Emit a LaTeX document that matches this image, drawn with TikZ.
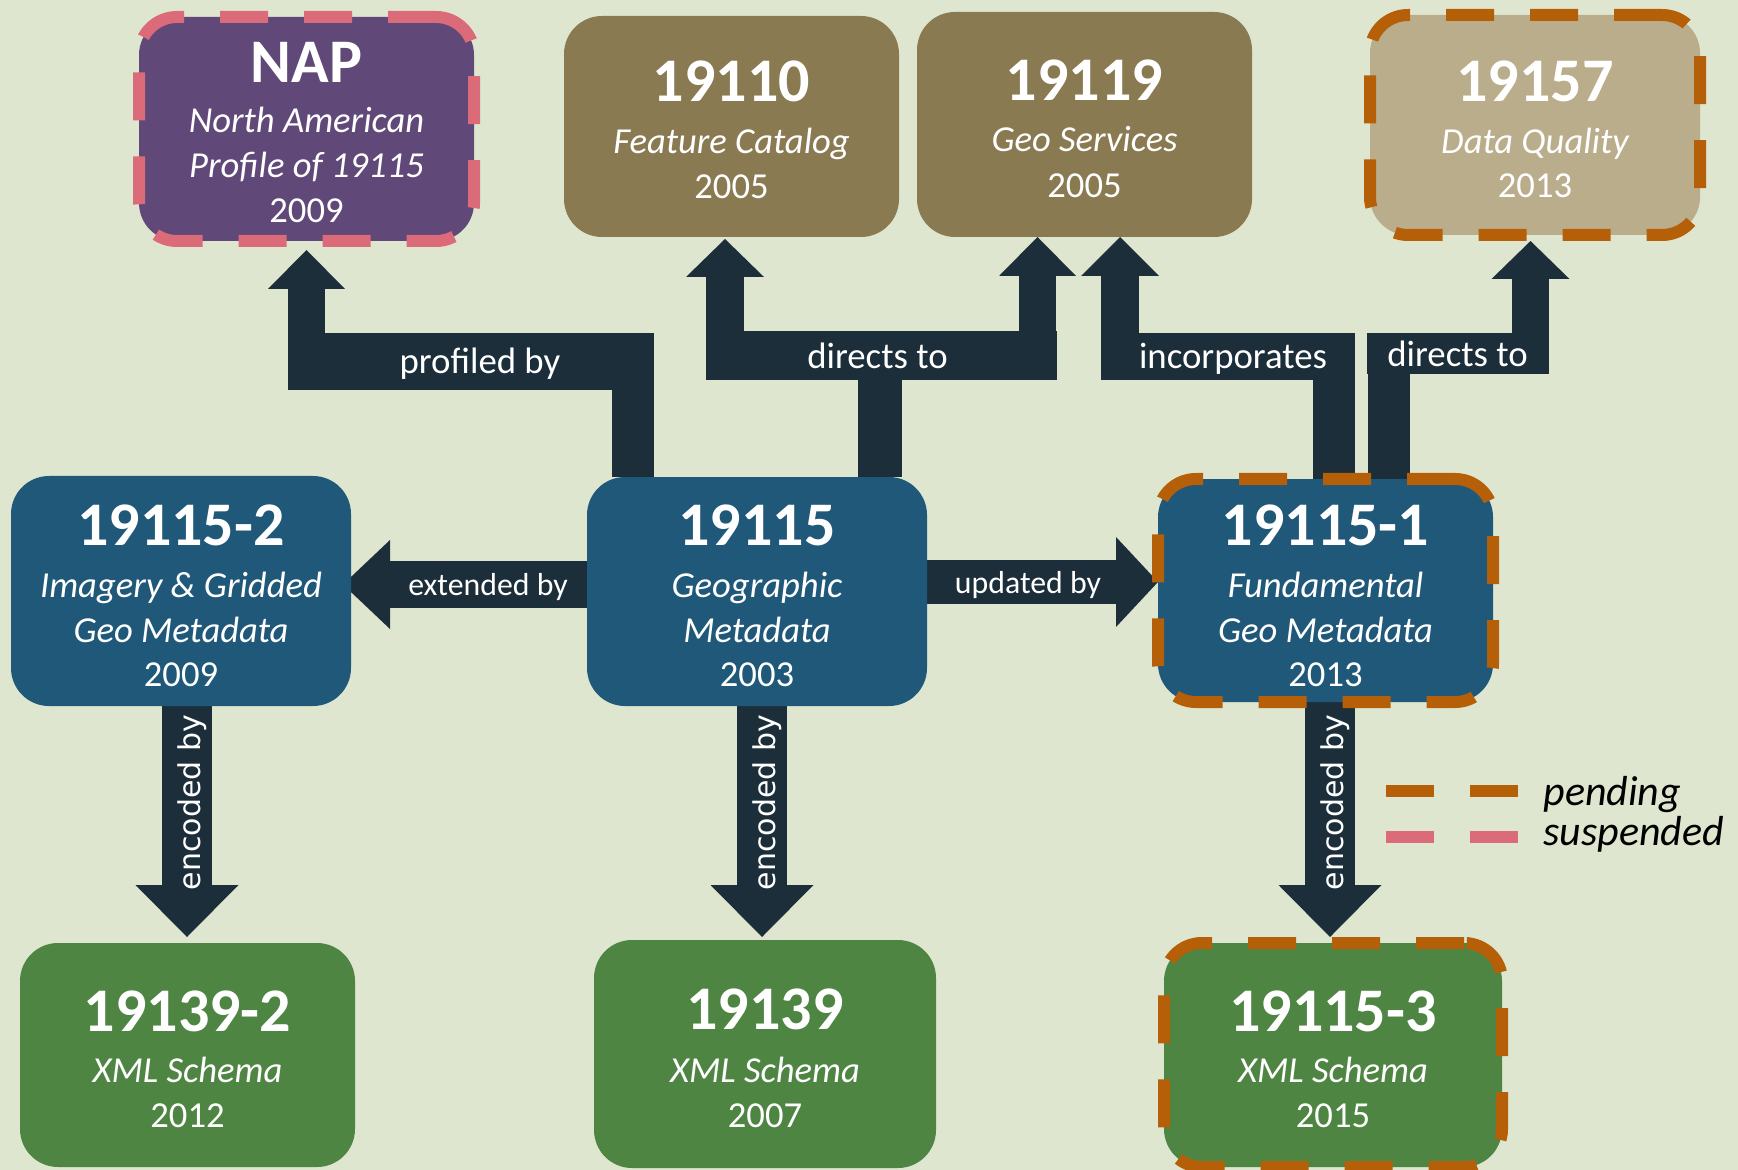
\documentclass[tikz,border=0pt]{standalone}
\usepackage{fontspec}
\setmainfont{Carlito}
\newfontfamily\encfont{DejaVu Sans}
\usetikzlibrary{arrows.meta}
\definecolor{bgc}{HTML}{DFE6CF}
\definecolor{navyc}{HTML}{1F5879}
\definecolor{arrowc}{HTML}{1C2E3A}
\definecolor{brownc}{HTML}{8A7A52}
\definecolor{tanc}{HTML}{BAAD8B}
\definecolor{purplec}{HTML}{604878}
\definecolor{greenc}{HTML}{4F8543}
\definecolor{orangec}{HTML}{B55F08}
\definecolor{pinkc}{HTML}{DB6B78}
\pgfdeclarelayer{back}
\pgfdeclarelayer{links}
\pgfsetlayers{back,links,main}
\begin{document}
\begin{tikzpicture}[x=0.5pt,y=-0.5pt,
  box/.style={rectangle, rounded corners=19pt, inner sep=0pt, outer sep=0pt},
  pend/.style={draw=orangec, line width=6pt, dash pattern=on 24pt off 18pt},
  susp/.style={draw=pinkc, line width=6pt, dash pattern=on 24pt off 18pt},
  band/.style={rectangle, fill=arrowc, inner sep=0pt, outer sep=0pt},
  link/.style={draw=arrowc, line width=#1},
  headed/.style 2 args={-{Triangle[length=#1,width=#2,line width=0pt]}},
  ttl/.style={font=\bfseries\fontsize{31}{31}\selectfont, text=white, anchor=base, inner sep=0pt},
  sub/.style={font=\itshape\fontsize{18.3}{18.3}\selectfont, text=white, anchor=base, inner sep=0pt},
  yr/.style={font=\fontsize{18.3}{18.3}\selectfont, text=white, anchor=base, inner sep=0pt},
  lab/.style={font=\fontsize{18.4}{18.4}\selectfont, text=white, anchor=base, inner sep=0pt},
  slab/.style={font=\fontsize{15.9}{15.9}\selectfont, text=white, anchor=base, inner sep=0pt},
  enc/.style={font=\encfont\fontsize{15}{15}\selectfont, text=white, anchor=base, rotate=90, inner sep=0pt},
  leg/.style={font=\itshape\fontsize{21}{21}\selectfont, text=black, anchor=base west, inner sep=0pt}
]
\useasboundingbox (0,0) rectangle (1738,1170);
\begin{pgfonlayer}{back}
\fill[bgc] (0,0) rectangle (1738,1170);
\end{pgfonlayer}

% ---------- boxes ----------
\node[box, fill=purplec, susp, minimum width=167.5pt, minimum height=112pt] (NAP) at (306.5,129) {};
\node[box, fill=brownc, minimum width=167.5pt, minimum height=110.5pt] (F19110) at (731.5,126.5) {};
\node[box, fill=brownc, minimum width=167.5pt, minimum height=112.5pt] (F19119) at (1084.5,124.5) {};
\node[box, fill=tanc, pend, minimum width=165pt, minimum height=110pt] (F19157) at (1535,125) {};
\node[box, fill=navyc, minimum width=170pt, minimum height=115pt] (B191152) at (181,591) {};
\node[box, fill=navyc, minimum width=170pt, minimum height=114.5pt] (B19115) at (757,591.5) {};
\node[box, fill=navyc, pend, minimum width=167.5pt, minimum height=111.5pt] (B191151) at (1325.5,590.5) {};
\node[box, fill=greenc, minimum width=167.5pt, minimum height=112pt] (G191392) at (187.5,1055) {};
\node[box, fill=greenc, minimum width=171pt, minimum height=114pt] (G19139) at (765,1054) {};
\node[box, fill=greenc, pend, minimum width=169pt, minimum height=112pt] (G191153) at (1333,1055) {};

% ---------- connectors ----------
\begin{pgfonlayer}{links}
% extended by
\coordinate (ext-a) at ([yshift=3.5pt]B19115.west);
\draw[link=23.5pt, headed={23.5pt}{44.5pt}, shorten >=-4pt] (ext-a) -- (B191152.east |- ext-a);
% updated by
\coordinate (upd-a) at ([yshift=4.75pt]B19115.east);
\draw[link=22pt, headed={21pt}{45pt}] (upd-a) -- (B191151.west |- upd-a);
% encoded by
\coordinate (enc1-a) at ([xshift=3pt]B191152.south);
\draw[link=25pt, headed={26pt}{51.5pt}, shorten >=3pt] (enc1-a) -- (enc1-a |- G191392.north);
\coordinate (enc2-a) at ([xshift=2.5pt]B19115.south);
\draw[link=25pt, headed={26pt}{51.5pt}, shorten >=1.5pt] (enc2-a) -- (enc2-a |- G19139.north);
\coordinate (enc3-a) at ([xshift=2.25pt]B191151.south);
\draw[link=25pt, headed={26pt}{51.5pt}, shorten >=3pt] (enc3-a) -- (enc3-a |- G191153.north);
% profiled by
\node[band, minimum width=183pt, minimum height=28.5pt] (pb-band) at (471,361.5) {};
\coordinate (pb-a) at ([xshift=-62pt]B19115.north);
\draw[link=21pt] (pb-a) -- (pb-a |- pb-band.center);
\draw[link=18.5pt, headed={19.5pt}{38.5pt}, shorten >=4.5pt] (NAP.south |- pb-band.center) -- (NAP.south);
% directs to (19110, 19119)
\node[band, minimum width=175.5pt, minimum height=24.5pt] (dt1-band) at (881.5,355.5) {};
\coordinate (dt1-a) at ([xshift=61.5pt]B19115.north);
\draw[link=22pt] (dt1-a) -- (dt1-a |- dt1-band.center);
\coordinate (dt1-b) at ([xshift=-3.25pt]F19110.south);
\draw[link=19pt, headed={19pt}{39pt}, shorten >=1pt] (dt1-b |- dt1-band.center) -- (dt1-b);
\coordinate (dt1-c) at ([xshift=-23.5pt]F19119.south);
\draw[link=18.5pt, headed={19.5pt}{38.5pt}] (dt1-c |- dt1-band.center) -- (dt1-c);
% incorporates
\node[band, minimum width=127pt, minimum height=23.5pt] (inc-band) at (1228,356.5) {};
\coordinate (inc-a) at ([xshift=4.25pt]B191151.north);
\draw[link=21pt] (inc-a |- inc-band.center) -- (inc-a);
\coordinate (inc-b) at ([xshift=17.75pt]F19119.south);
\draw[link=19pt, headed={19.5pt}{39pt}] (inc-b |- inc-band.center) -- (inc-b);
% directs to (19157)
\node[band, minimum width=91pt, minimum height=20.5pt] (dt2-band) at (1458,353.5) {};
\coordinate (dt2-a) at ([xshift=31.75pt]B191151.north);
\draw[link=21pt] (dt2-a) -- (dt2-a |- dt2-band.center);
\coordinate (dt2-b) at ([xshift=-2.25pt]F19157.south);
\draw[link=18.75pt, headed={19pt}{39pt}, shorten >=3pt] (dt2-b |- dt2-band.center) -- (dt2-b);
\end{pgfonlayer}

% ---------- connector labels ----------
\node[lab] (pb-l) at (480,374) {profiled by};
\node[lab] (dt1-l) at (877.5,369) {directs to};
\node[lab] (inc-l) at (1233,369) {incorporates};
\node[lab] (dt2-l) at (1457.5,367) {directs to};
\node[slab] (ext-l) at (488,595) {extended by};
\node[slab] (upd-l) at (1028,593) {updated by};
\node[enc] (enc1-l) at (200,802.5) {encoded by};
\node[enc] (enc2-l) at (775,802.5) {encoded by};
\node[enc] (enc3-l) at (1343,802.5) {encoded by};

% ---------- box texts ----------
\node[ttl] (NAP-1) at (306.5,83) {NAP};
\node[sub] (NAP-2) at (306.5,133) {North American};
\node[sub] (NAP-3) at (306.5,178) {Profile of 19115};
\node[yr]  (NAP-4) at (306.5,223) {2009};

\node[ttl] (F19110-1) at (731.5,102) {19110};
\node[sub] (F19110-2) at (731.5,154) {Feature Catalog};
\node[yr]  (F19110-3) at (731.5,199) {2005};

\node[ttl] (F19119-1) at (1084.5,101) {19119};
\node[sub] (F19119-2) at (1084.5,152) {Geo Services};
\node[yr]  (F19119-3) at (1084.5,198) {2005};

\node[ttl] (F19157-1) at (1535,102) {19157};
\node[sub] (F19157-2) at (1535,154) {Data Quality};
\node[yr]  (F19157-3) at (1535,198) {2013};

\node[ttl] (B191152-1) at (181,545) {19115-2};
\node[sub] (B191152-2) at (181,597) {Imagery \& Gridded};
\node[sub] (B191152-3) at (181,642) {Geo Metadata};
\node[yr]  (B191152-4) at (181,686) {2009};

\node[ttl] (B19115-1) at (757,545) {19115};
\node[sub] (B19115-2) at (757,597) {Geographic};
\node[sub] (B19115-3) at (757,642) {Metadata};
\node[yr]  (B19115-4) at (757,686) {2003};

\node[ttl] (B191151-1) at (1325.5,545) {19115-1};
\node[sub] (B191151-2) at (1325.5,597) {Fundamental};
\node[sub] (B191151-3) at (1325.5,642) {Geo Metadata};
\node[yr]  (B191151-4) at (1325.5,686) {2013};

\node[ttl] (G191392-1) at (187.5,1031) {19139-2};
\node[sub] (G191392-2) at (187.5,1082) {XML Schema};
\node[yr]  (G191392-3) at (187.5,1127) {2012};

\node[ttl] (G19139-1) at (765,1029) {19139};
\node[sub] (G19139-2) at (765,1082) {XML Schema};
\node[yr]  (G19139-3) at (765,1127) {2007};

\node[ttl] (G191153-1) at (1333,1031) {19115-3};
\node[sub] (G191153-2) at (1333,1082) {XML Schema};
\node[yr]  (G191153-3) at (1333,1127) {2015};

% ---------- legend ----------
\draw[pend] (1386,791) -- (1518,791);
\draw[susp] (1386,837) -- (1518,837);
\node[leg] (leg-p) at (1543,805) {pending};
\node[leg] (leg-s) at (1543,845) {suspended};
\end{tikzpicture}
\end{document}
